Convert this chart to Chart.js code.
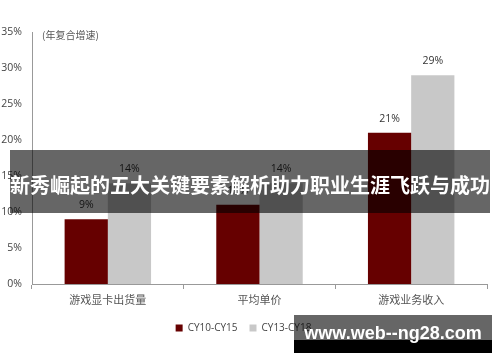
<!DOCTYPE html>
<html>
<head>
<meta charset="utf-8">
<script src="https://cdn.jsdelivr.net/npm/chart.js@4"></script>
<style>
    body { margin: 0; background: #fff; }
    #wrap { position: relative; width: 500px; height: 362px; overflow: hidden; }
    #banner {
        position: absolute; left: 10px; top: 150px; width: 480px; height: 63px;
        background: rgba(0, 0, 0, 0.6); color: #fff;
        font: bold 20px "Noto Sans CJK SC", sans-serif;
        line-height: 70px; text-align: center; white-space: nowrap;
    }
    #mark {
        position: absolute; left: 294px; top: 315px; width: 198px; height: 38px;
        background: linear-gradient(to bottom, rgba(0,0,0,0.6) 0, rgba(0,0,0,0.6) 25px, #000 25px, #000 38px);
        color: #fff; font: bold 18px "Liberation Sans", sans-serif;
        line-height: 36px; text-align: center; white-space: nowrap;
    }
</style>
</head>
<body>
<div id="wrap">
    <canvas id="chart"></canvas>
    <div id="banner">新秀崛起的五大关键要素解析助力职业生涯飞跃与成功</div>
    <div id="mark">www.web--ng28.com</div>
</div>
<script>
const categories = ['游戏显卡出货量', '平均单价', '游戏业务收入'];
const seriesNames = ['CY10-CY15', 'CY13-CY18'];
const cy10to15 = [9, 11, 21];
const cy13to18 = [14, 14, 29];
const yTicks = [0, 5, 10, 15, 20, 25, 30, 35];
const unitNote = '(年复合增速)';

// value labels above each bar + the unit note in the corner
const barLabels = {
    id: 'barLabels',
    afterDatasetsDraw(chart) {
        const ctx = chart.ctx;
        ctx.save();
        ctx.fillStyle = '#333';
        ctx.font = '10.5px "Open Sans", sans-serif';
        ctx.textAlign = 'center';
        ctx.textBaseline = 'middle';
        chart.data.datasets.forEach((ds, i) => {
            chart.getDatasetMeta(i).data.forEach((bar, j) => {
                ctx.fillText(ds.data[j] + '%', bar.x, bar.y - 14);
            });
        });
        ctx.fillStyle = '#555';
        ctx.font = '10px "Noto Sans CJK SC", sans-serif';
        ctx.textAlign = 'left';
        ctx.fillText(unitNote, chart.chartArea.left + 10, chart.chartArea.top + 3);
        ctx.restore();
    }
};

new Chart(document.getElementById('chart'), {
    type: 'bar',
    data: {
        labels: categories,
        datasets: [
            { label: seriesNames[0], data: cy10to15, backgroundColor: '#660000' },
            { label: seriesNames[1], data: cy13to18, backgroundColor: '#c8c8c8' }
        ]
    },
    options: {
        responsive: true,
        maintainAspectRatio: false,
        animation: false,
        categoryPercentage: 0.57,
        barPercentage: 1,
        layout: { padding: { left: 0, top: 32, right: 13, bottom: 19 } },
        scales: {
            x: {
                afterFit: s => { s.height = 27; },
                grid: { drawOnChartArea: false, tickLength: 5, color: '#999' },
                border: { color: '#999' },
                ticks: { color: '#555', padding: 4, font: { family: '"Noto Sans CJK SC"', size: 11 } }
            },
            y: {
                min: 0,
                max: 35,
                afterFit: s => { s.width = 32; },
                afterBuildTicks: s => { s.ticks = yTicks.map(v => ({ value: v })); },
                grid: { display: false, drawTicks: false },
                border: { color: '#999' },
                ticks: {
                    color: '#444', padding: 10,
                    font: { family: '"Open Sans"', size: 10.5 },
                    callback: v => v + '%'
                }
            }
        },
        plugins: {
            legend: {
                position: 'bottom',
                labels: {
                    boxWidth: 7, boxHeight: 7, padding: 12, color: '#444',
                    font: { family: '"Open Sans"', size: 10 }
                }
            },
            tooltip: { enabled: false }
        }
    },
    plugins: [barLabels]
});
</script>
</body>
</html>
